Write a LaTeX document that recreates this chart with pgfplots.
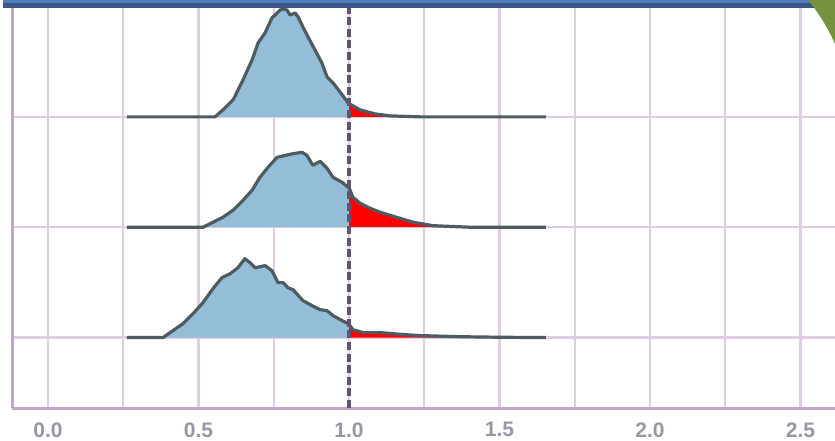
\documentclass[border=0pt]{standalone}
\usepackage{fontspec}
\setmainfont{Liberation Sans}
\usepackage{pgfplots}
\usepackage{pgfplotstable}
\pgfplotsset{compat=1.18}
\usepgfplotslibrary{fillbetween}

\definecolor{gridc}{RGB}{224,204,228}
\definecolor{axisc}{RGB}{200,162,204}
\definecolor{curvec}{RGB}{78,92,98}
\definecolor{fillblue}{RGB}{148,190,215}
\definecolor{barblue}{RGB}{76,124,190}
\definecolor{bardark}{RGB}{58,88,132}
\definecolor{leaf}{RGB}{118,146,60}
\definecolor{ticktext}{RGB}{150,150,165}
\definecolor{dashc}{RGB}{98,84,112}

% heights above each ridge's baseline
\pgfplotstableread{
x h
0.262 0
0.555 0
0.581 0.063
0.615 0.154
0.648 0.335
0.678 0.516
0.698 0.670
0.721 0.760
0.744 0.896
0.761 0.941
0.771 0.968
0.781 0.977
0.794 0.968
0.804 0.923
0.821 0.941
0.831 0.905
0.847 0.814
0.864 0.724
0.887 0.606
0.910 0.488
0.927 0.362
0.947 0.308
0.970 0.226
0.997 0.127
1.000 0.120
1.037 0.063
1.086 0.027
1.136 0.009
1.236 0
1.654 0
}\topcurve

\pgfplotstableread{
x h
0.262 0
0.515 0
0.548 0.045
0.581 0.090
0.615 0.154
0.648 0.244
0.678 0.335
0.704 0.452
0.731 0.543
0.761 0.633
0.804 0.661
0.844 0.679
0.860 0.652
0.880 0.561
0.904 0.597
0.927 0.534
0.947 0.452
0.977 0.407
0.997 0.362
1.000 0.360
1.013 0.271
1.037 0.217
1.070 0.172
1.103 0.136
1.146 0.100
1.213 0.045
1.279 0.014
1.402 0
1.654 0
}\midcurve

\pgfplotstableread{
x h
0.262 0
0.382 0
0.415 0.063
0.449 0.127
0.482 0.217
0.515 0.317
0.548 0.443
0.578 0.543
0.605 0.579
0.631 0.633
0.654 0.715
0.671 0.679
0.688 0.633
0.721 0.652
0.744 0.606
0.764 0.498
0.781 0.498
0.797 0.452
0.814 0.434
0.847 0.335
0.877 0.290
0.904 0.253
0.927 0.244
0.947 0.199
0.977 0.154
0.997 0.127
1.000 0.120
1.013 0.072
1.047 0.045
1.103 0.045
1.169 0.030
1.236 0.018
1.369 0.008
1.502 0.003
1.654 0
}\lowcurve

\begin{document}
\begin{tikzpicture}
\begin{axis}[
    at={(0,0)}, anchor=south west,
    scale only axis,
    width=411.5bp, height=200.75bp,
    xmin=-0.1196, xmax=2.6146,
    ymin=0.362, ymax=4,
    axis lines=left,
    axis line style={-, draw=axisc, line width=1.5bp},
    xtick={0,0.25,0.5,0.75,1,1.25,1.5,1.75,2,2.25,2.5},
    xticklabels={0.0,,0.5,,1.0,,1.5,,2.0,,2.5},
    ytick={1,2,3}, yticklabels={},
    major tick length=0pt,
    grid=major,
    major grid style={draw=gridc, line width=1.1bp},
    xticklabel style={font=\fontsize{10.5bp}{11bp}\selectfont\bfseries, text=ticktext,
        inner sep=0pt, anchor=north, yshift=-7bp},
    /pgf/number format/assume math mode=true,
    clip=false,
]
% top ridge
\addplot[draw=none, name path=b3] coordinates {(0.262,3) (1.654,3)};
\addplot[draw=none, name path=c3] table[x=x, y expr=\thisrow{h}+3] {\topcurve};
\addplot[fill=fillblue, draw=none] fill between[of=c3 and b3, soft clip={domain=0:1}];
\addplot[fill=red, draw=none] fill between[of=c3 and b3, soft clip={domain=1:2}];
\addplot[curvec, line width=1.6bp, line join=round] table[x=x, y expr=\thisrow{h}+3] {\topcurve};
% middle ridge
\addplot[draw=none, name path=b2] coordinates {(0.262,2) (1.654,2)};
\addplot[draw=none, name path=c2] table[x=x, y expr=\thisrow{h}+2] {\midcurve};
\addplot[fill=fillblue, draw=none] fill between[of=c2 and b2, soft clip={domain=0:1}];
\addplot[fill=red, draw=none] fill between[of=c2 and b2, soft clip={domain=1:2}];
\addplot[curvec, line width=1.6bp, line join=round] table[x=x, y expr=\thisrow{h}+2] {\midcurve};
% lower ridge
\addplot[draw=none, name path=b1] coordinates {(0.262,1) (1.654,1)};
\addplot[draw=none, name path=c1] table[x=x, y expr=\thisrow{h}+1] {\lowcurve};
\addplot[fill=fillblue, draw=none] fill between[of=c1 and b1, soft clip={domain=0:1}];
\addplot[fill=red, draw=none] fill between[of=c1 and b1, soft clip={domain=1:2}];
\addplot[curvec, line width=1.6bp, line join=round] table[x=x, y expr=\thisrow{h}+1] {\lowcurve};
% threshold
\addplot[dashc, line width=1.7bp, dash pattern=on 4bp off 1.8bp] coordinates {(1,0.362) (1,4)};
\end{axis}
% slide decorations
\fill[barblue] (-4.5bp,202.5bp) rectangle (411.5bp,204bp);
\fill[bardark] (-4.5bp,200bp) rectangle (411.5bp,202.5bp);
\fill[leaf] (398bp,204bp) .. controls (403bp,198bp) and (408bp,190bp) .. (411.5bp,182bp) -- (411.5bp,204bp) -- cycle;
\pgfresetboundingbox
\path (-6bp,-16.5bp) rectangle (411.5bp,204bp);
\end{tikzpicture}
\end{document}
